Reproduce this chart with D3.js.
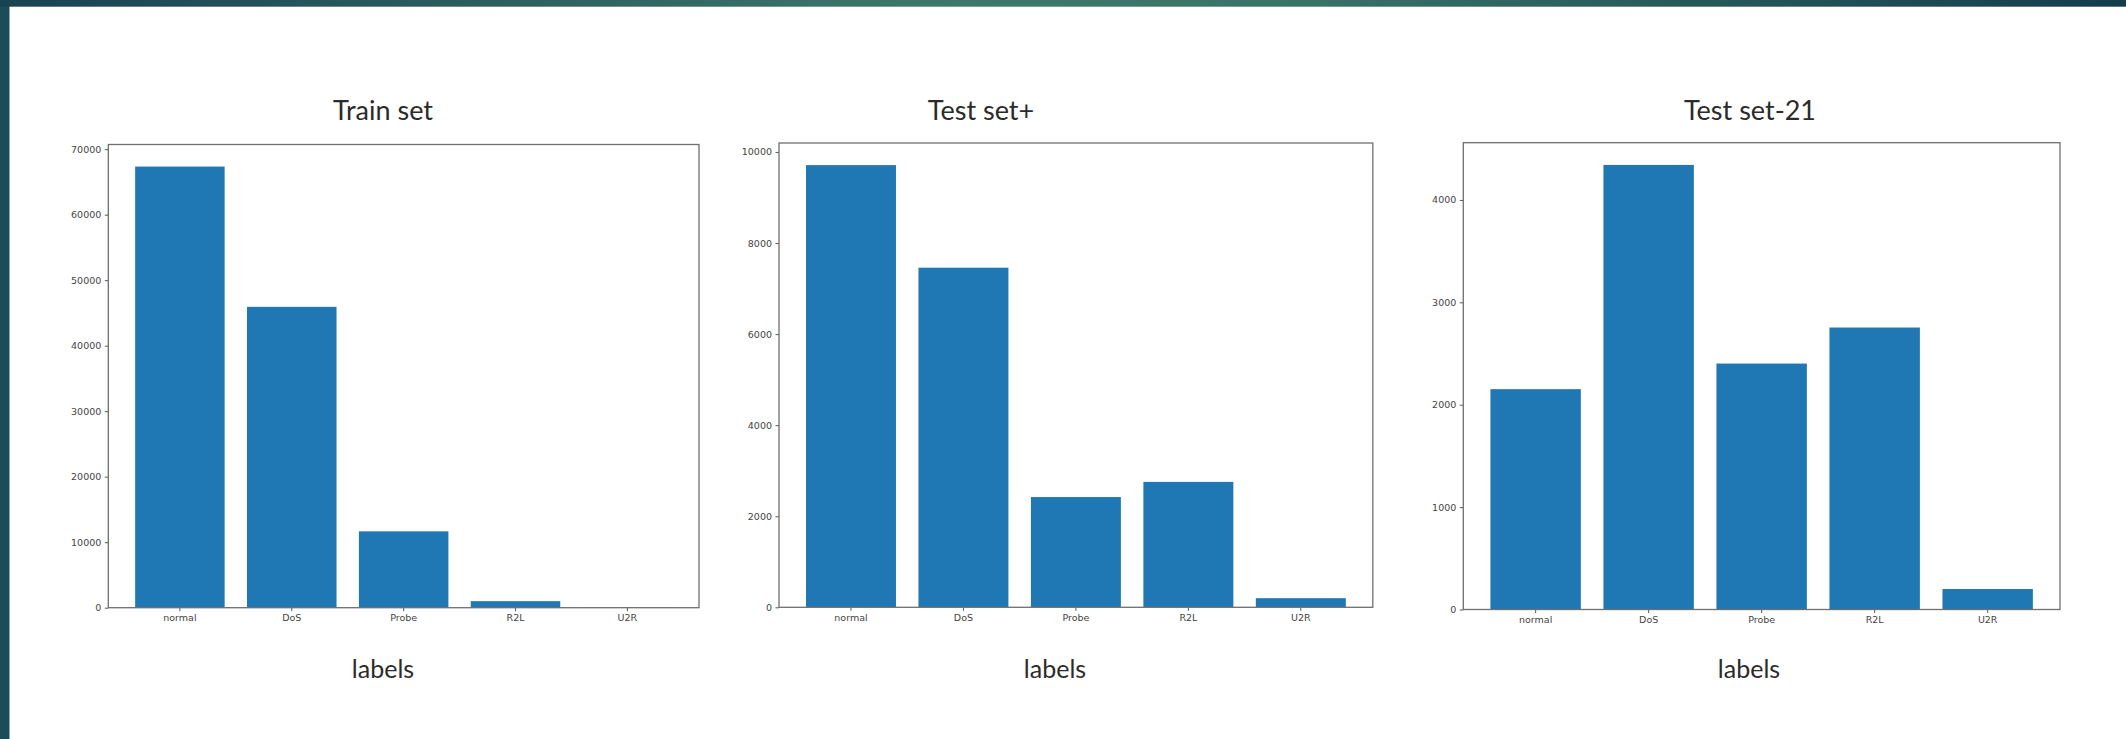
<!DOCTYPE html>
<html>
<head>
<meta charset="utf-8">
<script src="https://cdn.jsdelivr.net/npm/d3@7"></script>
<style>
  html, body { margin: 0; padding: 0; background: #ffffff; }
  svg { display: block; }
</style>
</head>
<body>
<svg id="chart" width="2126" height="739"></svg>
<script>
// NSL-KDD class distribution per data split
const categories = ["normal", "DoS", "Probe", "R2L", "U2R"];

const trainCounts = [67343, 45927, 11656, 995, 52];
const testPlusCounts = [9711, 7458, 2421, 2754, 200];
const test21Counts = [2152, 4342, 2402, 2754, 200];

const trainTicks = [0, 10000, 20000, 30000, 40000, 50000, 60000, 70000];
const testPlusTicks = [0, 2000, 4000, 6000, 8000, 10000];
const test21Ticks = [0, 1000, 2000, 3000, 4000];

const panelTitles = ["Train set", "Test set+", "Test set-21"];
const xAxisLabel = "labels";

const svg = d3.select("#chart");

// slide frame: gradient band on top, dark strip on the left
const defs = svg.append("defs");
const grad = defs.append("linearGradient").attr("id", "band").attr("x1", "0%").attr("x2", "100%");
grad.append("stop").attr("offset", "0%").attr("stop-color", "#1a4352");
grad.append("stop").attr("offset", "45%").attr("stop-color", "#3e786b");
grad.append("stop").attr("offset", "60%").attr("stop-color", "#3a7468");
grad.append("stop").attr("offset", "100%").attr("stop-color", "#143d4c");

svg.append("rect").attr("x", 0).attr("y", 0).attr("width", 9.5).attr("height", 739).attr("fill", "#1c4c5a");
svg.append("rect").attr("x", 0).attr("y", 0).attr("width", 2126).attr("height", 6.7).attr("fill", "url(#band)");

const panels = [
  { values: trainCounts, ticks: trainTicks, title: panelTitles[0],
    left: 108.3, right: 699, top: 144.5, bottom: 607.7, titleX: 383, labelX: 383 },
  { values: testPlusCounts, ticks: testPlusTicks, title: panelTitles[1],
    left: 779, right: 1372.8, top: 143, bottom: 607.3, titleX: 981, labelX: 1055 },
  { values: test21Counts, ticks: test21Ticks, title: panelTitles[2],
    left: 1463.3, right: 2060, top: 142.7, bottom: 609.5, titleX: 1750, labelX: 1749 }
];

const barColor = "#1f77b4";
const spineColor = "#6f6f6f";
const tickColor = "#444";

panels.forEach(p => {
  const g = svg.append("g");

  // matplotlib-style bar layout: width 0.8, 5% margin on each side
  const x = d3.scaleBand()
    .domain(categories)
    .range([p.left, p.right])
    .paddingInner(0.2)
    .paddingOuter(0.24);

  const y = d3.scaleLinear()
    .domain([0, d3.max(p.values) * 1.05])
    .range([p.bottom, p.top]);

  // bars
  g.selectAll("rect.bar")
    .data(categories.map((c, i) => ({ c, v: p.values[i] })))
    .join("rect")
    .attr("class", "bar")
    .attr("x", d => x(d.c))
    .attr("width", x.bandwidth())
    .attr("y", d => y(d.v))
    .attr("height", d => y(0) - y(d.v))
    .attr("fill", barColor);

  // axes
  const xAxis = g.append("g")
    .attr("transform", `translate(0,${p.bottom})`)
    .call(d3.axisBottom(x).tickSize(3.5).tickPadding(3.5));
  const yAxis = g.append("g")
    .attr("transform", `translate(${p.left},0)`)
    .call(d3.axisLeft(y).tickValues(p.ticks).tickFormat(d3.format("d")).tickSize(3.5).tickPadding(3.5));

  [xAxis, yAxis].forEach(a => {
    a.select(".domain").remove();
    a.selectAll(".tick line").attr("stroke", tickColor).attr("stroke-width", 0.9);
    a.selectAll(".tick text")
      .attr("fill", tickColor)
      .style("font-family", "'DejaVu Sans', sans-serif")
      .style("font-size", "9.5px");
  });

  // frame on all four sides
  g.append("rect")
    .attr("x", p.left)
    .attr("y", p.top)
    .attr("width", p.right - p.left)
    .attr("height", p.bottom - p.top)
    .attr("fill", "none")
    .attr("stroke", spineColor)
    .attr("stroke-width", 1.3);

  // panel title
  svg.append("text")
    .attr("x", p.titleX)
    .attr("y", 119.5)
    .attr("text-anchor", "middle")
    .style("font-family", "Lato, 'Open Sans', sans-serif")
    .style("font-size", "27px")
    .attr("fill", "#2b2b2b")
    .text(p.title);

  // x axis caption
  svg.append("text")
    .attr("x", p.labelX)
    .attr("y", 678)
    .attr("text-anchor", "middle")
    .style("font-family", "Lato, 'Open Sans', sans-serif")
    .style("font-size", "25px")
    .attr("fill", "#2b2b2b")
    .text(xAxisLabel);
});
</script>
</body>
</html>
